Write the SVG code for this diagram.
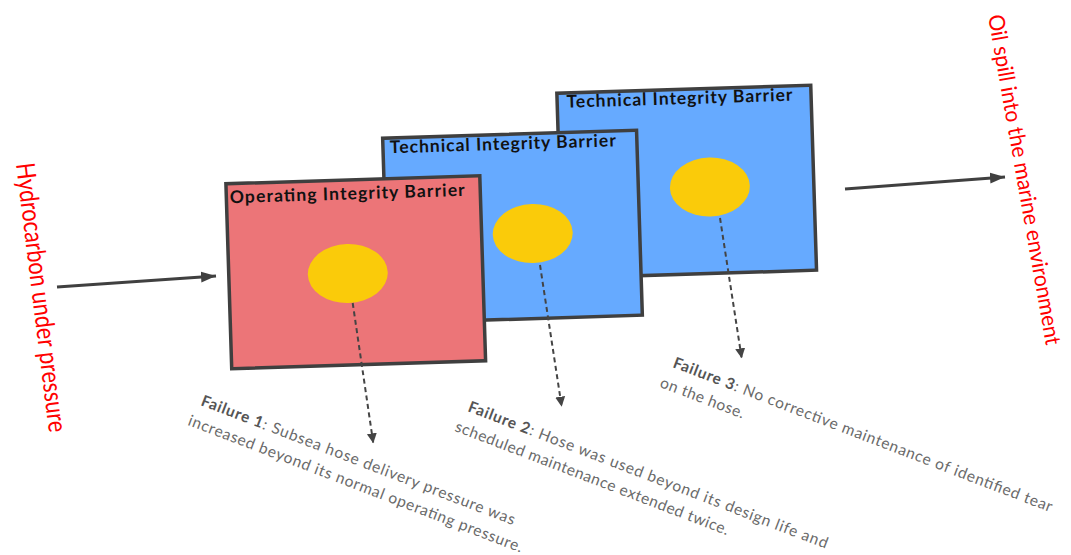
<svg xmlns="http://www.w3.org/2000/svg" width="1071" height="555" viewBox="0 0 1071 555">
  <style>
    .barrier { stroke: #3f3f3f; stroke-width: 3.5; }
    .op { fill: #ec7578; }
    .tech { fill: #66aaff; }
    .hole { fill: #facb0a; }
    .title { font-family: Lato, "Open Sans", sans-serif; font-weight: 700; font-size: 17.5px; fill: #111; }
    .flow { font-family: Lato, "Liberation Sans", sans-serif; font-weight: 400; fill: #ff0000; }
    .failure { font-family: Lato, "Liberation Sans", sans-serif; font-size: 15.5px; fill: #6a6a6a; }
    .failure .lead { font-weight: 700; fill: #555; }
    .main { stroke: #404040; stroke-width: 3.2; fill: none; }
    .dash { stroke: #444; stroke-width: 2; fill: none; stroke-dasharray: 5 3.5; }
  </style>
  <defs>
    <marker id="headBig" markerUnits="userSpaceOnUse" markerWidth="16" markerHeight="12" refX="15" refY="6" orient="auto">
      <path d="M0,0.5 L15,6 L0,11.5 z" fill="#404040"/>
    </marker>
    <marker id="headSmall" markerUnits="userSpaceOnUse" markerWidth="12" markerHeight="12" refX="10" refY="5.5" orient="auto">
      <path d="M0,0.5 L10,5.5 L0,10.5 z" fill="#444"/>
    </marker>
  </defs>

  <rect width="1071" height="555" fill="#ffffff"/>

  <!-- flow labels -->
  <g id="source">
    <text class="flow" font-size="26" transform="translate(16,164) rotate(83)" textLength="271" lengthAdjust="spacingAndGlyphs">Hydrocarbon under pressure</text>
  </g>
  <g id="outcome">
    <text class="flow" font-size="22" transform="translate(988,16) rotate(80)" textLength="335" lengthAdjust="spacingAndGlyphs">Oil spill into the marine environment</text>
  </g>

  <!-- barriers, back to front -->
  <g id="barrier3" transform="translate(686.7,181.7) rotate(-1.8)">
    <rect class="barrier tech" x="-127" y="-92.5" width="254" height="185"/>
    <ellipse class="hole" cx="23" cy="6" rx="40" ry="29.5"/>
    <text class="title" x="-117.6" y="-77.7" textLength="226">Technical Integrity Barrier</text>
  </g>
  <g id="barrier2" transform="translate(512.5,226.7) rotate(-1.8)">
    <rect class="barrier tech" x="-127" y="-92.5" width="254" height="185"/>
    <ellipse class="hole" cx="20" cy="7.5" rx="40" ry="29.5"/>
    <text class="title" x="-120.1" y="-77.2" textLength="226">Technical Integrity Barrier</text>
  </g>
  <g id="barrier1" transform="translate(355.75,272.25) rotate(-1.8)">
    <rect class="barrier op" x="-127" y="-92.5" width="254" height="185"/>
    <ellipse class="hole" cx="-8" cy="1" rx="40" ry="29.5"/>
    <text class="title" x="-123.5" y="-73" textLength="235">Operating Integrity Barrier</text>
  </g>

  <!-- failure notes -->
  <g id="failure1" transform="translate(200,405) rotate(21)">
    <text class="failure" x="0" y="0" textLength="335"><tspan class="lead">Failure 1</tspan>: Subsea hose delivery pressure was</text>
    <text class="failure" x="-5" y="23" textLength="357">increased beyond its normal operating pressure.</text>
  </g>
  <g id="failure2" transform="translate(467,411) rotate(21)">
    <text class="failure" x="0" y="0" textLength="384"><tspan class="lead">Failure 2</tspan>: Hose was used beyond its design life and</text>
    <text class="failure" x="-5" y="23" textLength="292">scheduled maintenance extended twice.</text>
  </g>
  <g id="failure3" transform="translate(672,367) rotate(21)">
    <text class="failure" x="0" y="0" textLength="405"><tspan class="lead">Failure 3</tspan>: No corrective maintenance of identified tear</text>
    <text class="failure" x="-5" y="23" textLength="89">on the hose.</text>
  </g>

  <!-- connectors -->
  <g id="connectors">
    <line class="main" x1="57" y1="287" x2="216" y2="276" marker-end="url(#headBig)"/>
    <line class="main" x1="845" y1="189" x2="1005" y2="177" marker-end="url(#headBig)"/>
    <line class="dash" x1="352.7" y1="303" x2="373.3" y2="443.3" marker-end="url(#headSmall)"/>
    <line class="dash" x1="540" y1="265" x2="561.7" y2="406.7" marker-end="url(#headSmall)"/>
    <line class="dash" x1="720" y1="218" x2="741.7" y2="358.3" marker-end="url(#headSmall)"/>
  </g>
</svg>
